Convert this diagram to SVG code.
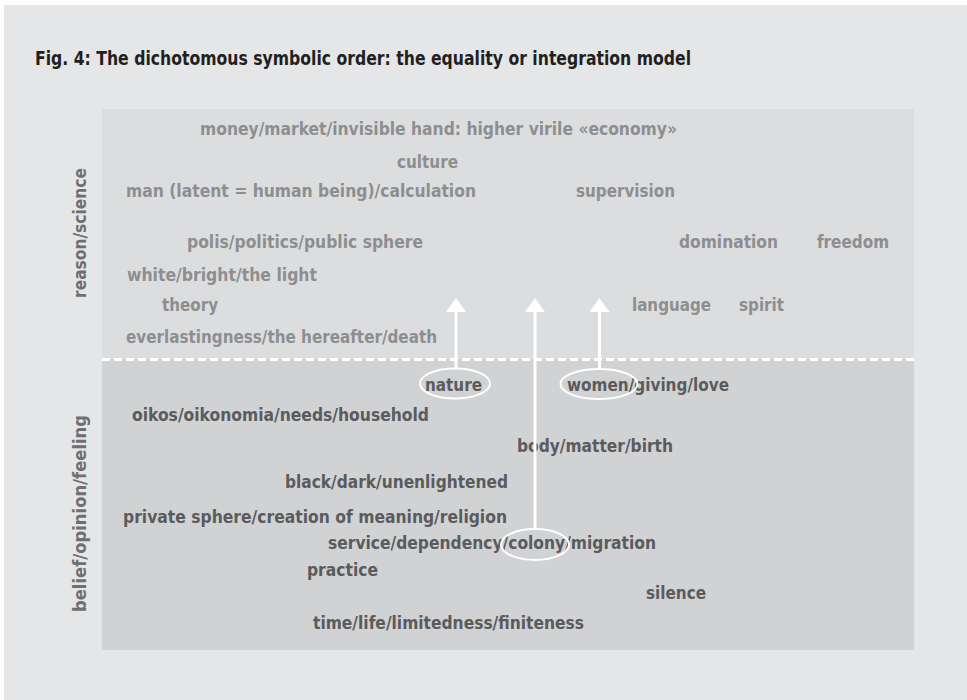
<svg xmlns="http://www.w3.org/2000/svg" width="967" height="700" viewBox="0 0 967 700">
<defs>
<style>
text{font-family:"Liberation Sans Narrow","DejaVu Sans Condensed","Liberation Sans",sans-serif;font-weight:bold;font-size:17.5px}
.up{fill:#8d8e90}
.lo{fill:#5a5b5d}
.side{fill:#6e6f71;font-size:17px}
.title{fill:#231f20;font-size:19px}
.ell{fill:none;stroke:#ffffff;stroke-width:2}
.conn{stroke:#ffffff;stroke-width:3;fill:none}
</style>
<marker id="ah" viewBox="0 -10 14 20" markerWidth="14" markerHeight="20" refX="0" refY="0" orient="auto" markerUnits="userSpaceOnUse">
<path d="M0,-10 L14,0 L0,10 z" fill="#ffffff"/>
</marker>
</defs>
<rect x="0" y="0" width="967" height="700" fill="#ffffff"/>
<rect x="4" y="5" width="963" height="695" fill="#e5e6e8"/>
<g id="title"><text class="title" x="35" y="65" textLength="656" lengthAdjust="spacingAndGlyphs">Fig. 4: The dichotomous symbolic order: the equality or integration model</text></g>
<g id="panel-upper"><rect x="102" y="109" width="812" height="250" fill="#dcdddf"/></g>
<g id="panel-lower"><rect x="102" y="359" width="812" height="291" fill="#d1d2d4"/></g>
<g id="divider"><line x1="102" y1="359.5" x2="914" y2="359.5" stroke="#ffffff" stroke-width="3" stroke-dasharray="8 4"/></g>
<g id="label-reason"><text class="side" transform="translate(86,298) rotate(-90)" textLength="130" lengthAdjust="spacingAndGlyphs">reason/science</text></g>
<g id="label-belief"><text class="side" transform="translate(86,612) rotate(-90)" textLength="197" lengthAdjust="spacingAndGlyphs">belief/opinion/feeling</text></g>
<g id="n-money"><text class="up" x="200" y="135" textLength="477" lengthAdjust="spacingAndGlyphs">money/market/invisible hand: higher virile «economy»</text></g>
<g id="n-culture"><text class="up" x="397" y="168" textLength="61" lengthAdjust="spacingAndGlyphs">culture</text></g>
<g id="n-man"><text class="up" x="126" y="197" textLength="350" lengthAdjust="spacingAndGlyphs">man (latent = human being)/calculation</text></g>
<g id="n-supervision"><text class="up" x="576" y="197" textLength="99" lengthAdjust="spacingAndGlyphs">supervision</text></g>
<g id="n-polis"><text class="up" x="187" y="248" textLength="236" lengthAdjust="spacingAndGlyphs">polis/politics/public sphere</text></g>
<g id="n-domination"><text class="up" x="679" y="248" textLength="99" lengthAdjust="spacingAndGlyphs">domination</text></g>
<g id="n-freedom"><text class="up" x="817" y="248" textLength="72" lengthAdjust="spacingAndGlyphs">freedom</text></g>
<g id="n-white"><text class="up" x="127" y="281" textLength="190" lengthAdjust="spacingAndGlyphs">white/bright/the light</text></g>
<g id="n-theory"><text class="up" x="162" y="311" textLength="56" lengthAdjust="spacingAndGlyphs">theory</text></g>
<g id="n-language"><text class="up" x="632" y="311" textLength="79" lengthAdjust="spacingAndGlyphs">language</text></g>
<g id="n-spirit"><text class="up" x="739" y="311" textLength="45" lengthAdjust="spacingAndGlyphs">spirit</text></g>
<g id="n-everlasting"><text class="up" x="126" y="343" textLength="311" lengthAdjust="spacingAndGlyphs">everlastingness/the hereafter/death</text></g>
<g id="n-nature"><text class="lo" x="425" y="391" textLength="57" lengthAdjust="spacingAndGlyphs">nature</text><ellipse class="ell" cx="455" cy="383.5" rx="35" ry="15"/></g>
<g id="n-women"><text class="lo" x="567" y="391" textLength="162" lengthAdjust="spacingAndGlyphs">women/giving/love</text><ellipse class="ell" cx="599" cy="384" rx="38.5" ry="15"/></g>
<g id="n-oikos"><text class="lo" x="132" y="421" textLength="297" lengthAdjust="spacingAndGlyphs">oikos/oikonomia/needs/household</text></g>
<g id="n-body"><text class="lo" x="517" y="452" textLength="156" lengthAdjust="spacingAndGlyphs">body/matter/birth</text></g>
<g id="n-black"><text class="lo" x="285" y="488" textLength="223" lengthAdjust="spacingAndGlyphs">black/dark/unenlightened</text></g>
<g id="n-private"><text class="lo" x="123" y="523" textLength="384" lengthAdjust="spacingAndGlyphs">private sphere/creation of meaning/religion</text></g>
<g id="n-service"><text class="lo" x="328" y="549" textLength="328" lengthAdjust="spacingAndGlyphs">service/dependency/colony/migration</text><ellipse class="ell" cx="535" cy="544.5" rx="34" ry="15.5"/></g>
<g id="n-practice"><text class="lo" x="307" y="576" textLength="71" lengthAdjust="spacingAndGlyphs">practice</text></g>
<g id="n-silence"><text class="lo" x="646" y="599" textLength="60" lengthAdjust="spacingAndGlyphs">silence</text></g>
<g id="n-time"><text class="lo" x="313" y="629" textLength="271" lengthAdjust="spacingAndGlyphs">time/life/limitedness/finiteness</text></g>
<g id="connectors">
<line class="conn" x1="456" y1="368.5" x2="456" y2="312" marker-end="url(#ah)"/>
<line class="conn" x1="535" y1="529" x2="535" y2="312" marker-end="url(#ah)"/>
<line class="conn" x1="599.5" y1="369" x2="599.5" y2="312" marker-end="url(#ah)"/>
</g>
</svg>
